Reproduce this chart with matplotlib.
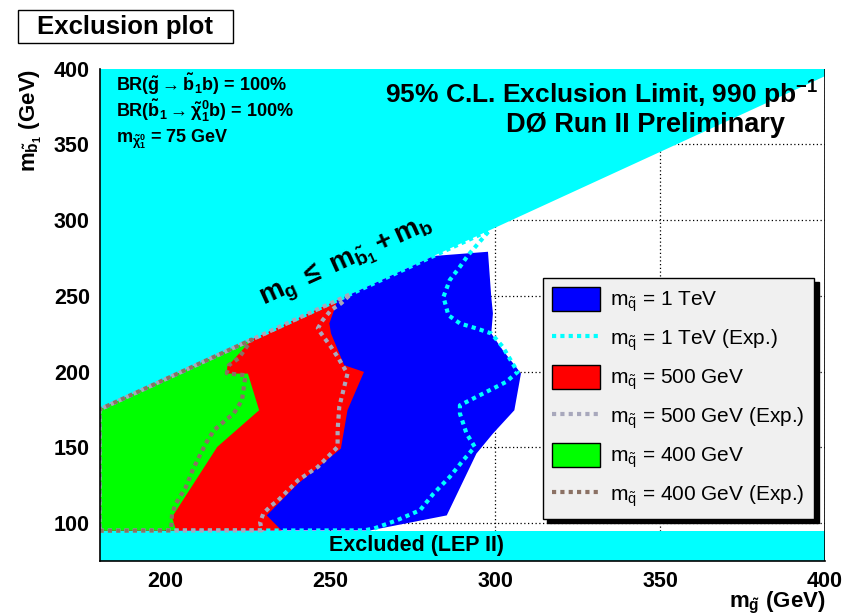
#!/usr/bin/env python3
# DØ gluino -> sbottom exclusion plot, redrawn with matplotlib

import matplotlib
matplotlib.use('Agg')
import matplotlib.pyplot as plt
from matplotlib.patches import Patch, Rectangle
from matplotlib.lines import Line2D

plt.rcParams['font.family'] = ['Liberation Sans', 'DejaVu Sans']
plt.rcParams['mathtext.fontset'] = 'custom'
plt.rcParams['mathtext.rm'] = 'Liberation Sans'
plt.rcParams['mathtext.it'] = 'Liberation Sans'
plt.rcParams['mathtext.bf'] = 'Liberation Sans:bold'

# axis ranges (GeV)
x_range = (180, 400)
y_range = (75, 400)
lep_limit = 95.0      # LEP II sbottom limit
m_b = 5.0             # kinematic line m_sb1 = m_gluino - m_b

# observed contours (m_gluino, m_sbottom), from bottom edge up to the kinematic line
obs_1tev_x = [235.2, 262.1, 285.3, 294.3, 299.3, 305.8, 307.8, 306.3, 302.3, 298.8, 299.3, 298.8, 297.8, 281.3]
obs_1tev_y = [95.2, 95.2, 105.1, 145.9, 159.1, 174.5, 198.7, 203.1, 214.1, 225.2, 238.4, 249.3, 279.1, 276.3]

obs_500_x = [235.2, 230.7, 237.2, 240.2, 253.2, 255.2, 260.2, 254.2, 250.2, 249.7, 252.2]
obs_500_y = [95.2, 105.1, 119.5, 126.1, 149.2, 174.5, 199.8, 204.2, 225.2, 231.8, 247.2]

obs_400_x = [203.2, 202.0, 215.7, 228.4, 225.0, 218.7, 218.7, 226.2]
obs_400_y = [95.2, 104.0, 150.3, 174.5, 198.7, 198.7, 203.1, 221.2]

# expected contours
exp_1tev_x = [260.2, 263.2, 270.2, 277.2, 281.3, 286.2, 290.3, 293.8, 291.3, 289.3, 289.3, 293.3,
              298.3, 303.3, 306.8, 305.3, 302.3, 298.8, 294.3, 289.3, 285.8, 284.3, 286.2, 289.3,
              291.8, 298.3]
exp_1tev_y = [95.2, 96.4, 101.9, 108.5, 119.5, 130.5, 141.5, 150.3, 159.1, 172.3, 177.8, 182.2,
              187.7, 193.2, 199.8, 205.3, 216.3, 225.2, 228.5, 231.8, 237.2, 249.3, 260.4, 269.2,
              276.9, 293.3]

exp_500_x = [229.2, 228.7, 229.7, 232.2, 234.2, 240.2, 246.2, 250.2, 252.2, 252.2, 252.7, 254.2,
             255.2, 252.2, 250.2, 247.2, 246.2, 247.7, 250.2, 253.2, 256.2]
exp_500_y = [95.2, 100.5, 106.5, 111.8, 115.1, 128.3, 137.1, 145.9, 150.3, 161.3, 176.7, 189.9,
             198.7, 209.7, 216.3, 225.2, 228.5, 234.0, 240.6, 245.0, 251.2]

exp_400_x = [201.7, 202.0, 203.2, 206.2, 208.2, 210.2, 212.2, 214.7, 218.2, 220.7, 223.2, 223.7,
             224.3, 218.6, 219.2, 222.2, 226.1]
exp_400_y = [95.2, 106.5, 113.0, 123.8, 134.8, 143.7, 152.5, 161.3, 167.9, 172.3, 181.1, 189.0,
             197.6, 198.9, 204.2, 208.8, 221.1]

obs_colors = {'1tev': '#0000ff', '500': '#ff0000', '400': '#00ff00'}
exp_colors = {'1tev': '#00ffff', '500': '#a8a8bc', '400': '#8b7164'}
cyan = '#00ffff'


def close_region(xs, ys):
    # polygon: left edge along the LEP band, contour, back along the kinematic line
    px = [x_range[0]] + list(xs) + [x_range[0]]
    py = [lep_limit] + list(ys) + [x_range[0] - m_b]
    return px, py


fig = plt.figure(figsize=(8.47, 6.15), dpi=100)
ax = fig.add_axes([0.1175, 0.0878, 0.8565, 0.8007])
ax.set_xlim(*x_range)
ax.set_ylim(*y_range)

# grid underneath everything
for gx in range(200, 401, 50):
    ax.axvline(gx, color='black', lw=0.9, ls=(0, (1, 2)), zorder=0)
for gy in range(100, 401, 50):
    ax.axhline(gy, color='black', lw=0.9, ls=(0, (1, 2)), zorder=0)

# kinematically forbidden region
ax.fill([x_range[0], x_range[1], x_range[1], x_range[0]],
        [x_range[0] - m_b, x_range[1] - m_b, y_range[1], y_range[1]],
        color=cyan, lw=0, zorder=1)

for key, xs, ys in [('1tev', obs_1tev_x, obs_1tev_y),
                    ('500', obs_500_x, obs_500_y),
                    ('400', obs_400_x, obs_400_y)]:
    px, py = close_region(xs, ys)
    ax.fill(px, py, color=obs_colors[key], lw=0, zorder=2)

# LEP band
ax.fill([x_range[0], x_range[1], x_range[1], x_range[0]],
        [y_range[0], y_range[0], lep_limit, lep_limit],
        color=cyan, lw=0, zorder=3)

for key, xs, ys in [('1tev', exp_1tev_x, exp_1tev_y),
                    ('500', exp_500_x, exp_500_y),
                    ('400', exp_400_x, exp_400_y)]:
    px, py = close_region(xs, ys)
    px.append(px[0])
    py.append(py[0])
    ax.plot(px, py, color=exp_colors[key], lw=3, ls=(0, (1, 1)),
            solid_capstyle='butt', dash_capstyle='butt', zorder=4)

ax.set_xticks(range(200, 401, 50))
ax.set_yticks(range(100, 401, 50))
ax.tick_params(length=0, labelsize=15.5, pad=7)
for lab in ax.get_xticklabels() + ax.get_yticklabels():
    lab.set_fontweight('bold')
for side in ['top', 'right']:
    ax.spines[side].set_visible(False)
for side in ['left', 'bottom']:
    ax.spines[side].set_linewidth(1.2)
    ax.spines[side].set_zorder(6)
ax.axvline(x_range[1], color='black', lw=1.2, zorder=6)

# annotations
ax.text(276, 85, 'Excluded (LEP II)', fontsize=15.5, fontweight='bold',
        ha='center', va='center', zorder=7)
ax.text(185, 390, r'BR($\mathbf{\tilde{g}}\rightarrow\mathbf{\tilde{b}_1}$b) = 100%',
        fontsize=13, fontweight='bold', va='center', zorder=7)
ax.text(185, 372, r'BR($\mathbf{\tilde{b}_1}\rightarrow\mathbf{\tilde{\chi}^0_1}$b) = 100%',
        fontsize=13, fontweight='bold', va='center', zorder=7)
ax.text(185, 353.5, r'$\mathbf{m_{\tilde{\chi}^0_1}}$ = 75 GeV',
        fontsize=13, fontweight='bold', va='center', zorder=7)
ax.text(398, 382.5, r'95% C.L. Exclusion Limit, 990 pb$\mathbf{^{-1}}$',
        fontsize=19, fontweight='bold', ha='right', va='center', zorder=7)
ax.text(388, 363, 'DØ Run II Preliminary',
        fontsize=19.5, fontweight='bold', ha='right', va='center', zorder=7)
ax.text(255, 272, r'$\mathbf{m_{g}\ \leq\ m_{\tilde{b}_1} + m_b}$',
        fontsize=20, ha='center', va='center', rotation=24.4, zorder=7)

# legend
handles = [
    Patch(facecolor=obs_colors['1tev'], edgecolor='black'),
    Line2D([], [], color=exp_colors['1tev'], lw=3, ls=(0, (1, 1))),
    Patch(facecolor=obs_colors['500'], edgecolor='black'),
    Line2D([], [], color=exp_colors['500'], lw=3, ls=(0, (1, 1))),
    Patch(facecolor=obs_colors['400'], edgecolor='black'),
    Line2D([], [], color=exp_colors['400'], lw=3, ls=(0, (1, 1))),
]
labels = [r'$\mathrm{m_{\tilde{q}}}$ = 1 TeV',
          r'$\mathrm{m_{\tilde{q}}}$ = 1 TeV (Exp.)',
          r'$\mathrm{m_{\tilde{q}}}$ = 500 GeV',
          r'$\mathrm{m_{\tilde{q}}}$ = 500 GeV (Exp.)',
          r'$\mathrm{m_{\tilde{q}}}$ = 400 GeV',
          r'$\mathrm{m_{\tilde{q}}}$ = 400 GeV (Exp.)']
leg = ax.legend(handles, labels, loc='upper left', bbox_to_anchor=(0.611, 0.575),
                fontsize=15, fancybox=False, framealpha=1, facecolor='#f0f0f0',
                edgecolor='black', handlelength=2.3, handleheight=1.35,
                labelspacing=0.58, borderpad=0.45, handletextpad=0.5, borderaxespad=0,
                shadow={'color': 'black', 'alpha': 1, 'ox': 3, 'oy': -3})
leg.set_zorder(8)

# axis titles
fig.text(0.974, 1 - 603 / 615, r'$\mathbf{m_{\tilde{g}}}$ (GeV)', fontsize=16, fontweight='bold',
         ha='right', va='center')
fig.text(0.037, 0.8885, r'$\mathbf{m_{\tilde{b}_1}}$ (GeV)', fontsize=16, fontweight='bold',
         ha='center', va='top', rotation=90)

# title box
fig.patches.append(Rectangle((18 / 847, 1 - 43 / 615), 215 / 847, 33 / 615,
                             transform=fig.transFigure, facecolor='white',
                             edgecolor='black', lw=1))
fig.text(125 / 847, 1 - 27 / 615, 'Exclusion plot', fontsize=18.5, fontweight='bold',
         ha='center', va='center')

plt.savefig('out.png', dpi=100)
